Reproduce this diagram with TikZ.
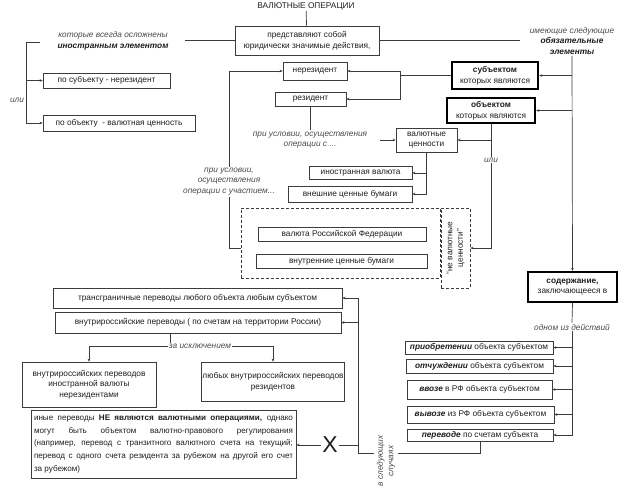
\documentclass[tikz,border=0pt]{standalone}
\usepackage{fontspec}
\setmainfont{Liberation Sans}
\usepackage{graphicx}
\usetikzlibrary{arrows.meta,calc}
\definecolor{ln}{HTML}{3C3C3C}
\definecolor{tx}{HTML}{1E1E1E}
\definecolor{it}{HTML}{4A4A4A}
\newcommand\myfs{\fontsize{8.3}{10.7}\selectfont}
\tikzset{
 box/.style={draw=ln, line width=0.7pt, inner sep=1pt, align=center, font=\myfs, text=tx},
 tbox/.style={draw=black, line width=2.4pt, inner sep=1pt, align=center, font=\myfs, text=tx},
 dbox/.style={draw=ln, dash pattern=on 3pt off 2pt, line width=0.7pt},
 lbl/.style={font=\myfs\itshape, text=it, align=center, inner sep=1pt},
 conn/.style={draw=ln, line width=0.7pt},
 arr/.style={conn, -{Stealth[length=3pt,width=2.6pt]}},
}
\begin{document}
\begin{tikzpicture}[x=1pt,y=-1pt]
\useasboundingbox (0,0) rectangle (637,491);
% top
\node[font=\myfs, text=tx, inner sep=1pt] (title) at (306,6) {ВАЛЮТНЫЕ ОПЕРАЦИИ};
\node[box, minimum width=144, minimum height=29] (topbox) at (307,40.5) {представляют собой\\юридически значимые действия,};
\node[lbl] (inost) at (113,41) {которые всегда осложнены\\\textbf{\textcolor{tx}{иностранным элементом}}};
\node[lbl] (oblig) at (572,41) {имеющие следующие\\\textbf{\textcolor{tx}{обязательные}}\\\textbf{\textcolor{tx}{элементы}}};
\coordinate (c1) at (185,40.5);
\coordinate (c2) at (520,40.5);
\coordinate (lbt) at (40,42);
\coordinate (lbc) at (26,42);
% left
\node[box, minimum width=127, minimum height=15] (posubj) at (106.5,80.5) {по субъекту - нерезидент};
\node[box, minimum width=152, minimum height=16] (poobj) at (119,123) {по объекту \ - валютная ценность};
\node[lbl] (ili1) at (17,100) {или};
% subjects
\node[box, minimum width=64, minimum height=18] (nerez) at (315,71) {нерезидент};
\node[box, minimum width=71, minimum height=14] (rez) at (310.5,99) {резидент};
\node[tbox, minimum width=86, minimum height=27] (subj) at (495,75.5) {\textbf{субъектом}\\которых являются};
\node[tbox, minimum width=88, minimum height=25] (obj) at (491,110.5) {\textbf{объектом}\\которых являются};
\coordinate (j1) at (400,75.5);
% objects
\node[box, minimum width=61, minimum height=24] (valcen) at (426.5,140) {валютные\\ценности};
\node[lbl] (cond1) at (310,140) {при условии, осуществления\\операции с ...};
\coordinate (c3) at (380,140);
\node[box, minimum width=103, minimum height=13] (inval) at (360.5,173) {иностранная валюта};
\node[box, minimum width=124, minimum height=16] (vnesh) at (350,194) {внешние ценные бумаги};
\node[lbl] (cond2) at (229,181.5) {при условии,\\осуществления\\операции с участием...};
\node[dbox, minimum width=199, minimum height=70] (dbig) at (340.5,243) {};
\node[box, minimum width=168, minimum height=14] (valrf) at (342,234) {валюта Российской Федерации};
\node[box, minimum width=171, minimum height=14] (vnutr) at (341.5,261) {внутренние ценные бумаги};
\node[dbox, minimum width=29, minimum height=80, inner sep=0pt, font=\myfs, text=tx] (nvc) at (455.5,248) {\rotatebox{90}{\begin{tabular}{@{}c@{}}“не валютные\\ценности”\end{tabular}}};
\node[lbl, fill=white] (ili2) at (491,160) {или};
% content
\node[tbox, minimum width=89, minimum height=30] (soderzh) at (572.5,287) {\textbf{содержание,}\\заключающееся в};
\node[lbl] (odnom) at (572,327) {одном из действий};
\node[box, minimum width=148, minimum height=13] (acta) at (479,347.5) {\textbf{\textit{приобретении}} объекта субъектом};
\node[box, minimum width=147, minimum height=14] (actb) at (479.5,366) {\textbf{\textit{отчуждении}} объекта субъектом};
\node[box, minimum width=145, minimum height=19] (actc) at (479.5,389.5) {\textbf{\textit{ввозе}} в РФ объекта субъектом};
\node[box, minimum width=147, minimum height=17] (actd) at (480.5,414.5) {\textbf{\textit{вывозе}} из РФ объекта субъектом};
\node[box, minimum width=146, minimum height=12] (acte) at (480,435) {\textbf{\textit{переводе}} по счетам субъекта};
% transfers
\node[box, minimum width=289, minimum height=20] (transgr) at (197.5,298) {трансграничные переводы любого объекта любым субъектом};
\node[box, minimum width=286, minimum height=21] (vnross) at (198,322.5) {внутрироссийские переводы ( по счетам на территории России)};
\node[lbl] (za) at (200,346) {за исключением};
\coordinate (zt) at (170,0);
\node[box, minimum width=134, minimum height=45] (exc1) at (89,384.5) {внутрироссийских переводов\\иностранной валюты\\нерезидентами};
\node[box, minimum width=142, minimum height=39] (exc2) at (273,381.5) {любых внутрироссийских переводов\\резидентов};
\node[box, minimum width=265, minimum height=68, text width=259pt, align=justify, font=\fontsize{8.1}{12.7}\selectfont] (big) at (163.5,444) {иные переводы \textbf{НЕ являются валютными операциями,} однако\linebreak могут быть объектом валютно-правового регулирования\linebreak (например, перевод с транзитного валютного счета на текущий;\linebreak перевод с одного счета резидента за рубежом на другой его счет\linebreak за рубежом)};
\node[font=\fontsize{23}{23}\selectfont, text=tx, inner sep=1pt] (X) at (330,445) {X};
\coordinate (jl) at (358,453);
% connectors
\draw[conn] (title) -- (topbox);
\draw[conn] (topbox.west) -- (c1);
\draw[conn] (topbox.east) -- (c2);
\draw[conn] (lbt) -- (lbc);
\draw[arr] (lbc) |- (poobj);
\draw[arr] (lbc |- posubj) -- (posubj);
\draw[arr] (oblig.south) -- (soderzh.north);
\draw[arr] (oblig.south |- subj) -- (subj);
\draw[arr] (oblig.south |- obj) -- (obj);
\draw[conn] (subj) -- (j1);
\draw[arr] (j1) |- (nerez);
\draw[arr] (j1) |- (rez);
\draw[conn] (rez.south) -- (rez.south |- cond1.north);
\draw[arr] (c3) -- (valcen);
\draw[conn] (obj.south) -- (ili2.north);
\draw[arr] (ili2.south) |- (nvc);
\draw[arr] (obj.south |- valcen) -- (valcen);
\draw[arr] (valcen.south) |- (vnesh);
\draw[arr] (valcen.south |- inval) -- (inval);
\draw[arr] (cond2.north) |- (nerez);
\draw[conn] (cond2.south) |- (dbig.west |- nvc.center);
\draw[conn] (soderzh.south) -- (odnom.north);
\draw[arr] (odnom.south) |- (acte);
\draw[arr] (odnom.south |- acta) -- (acta);
\draw[arr] (odnom.south |- actb) -- (actb);
\draw[arr] (odnom.south |- actc) -- (actc);
\draw[arr] (odnom.south |- actd) -- (actd);
\draw[conn] (acte.south) |- (jl);
\draw[arr] (jl) |- (transgr);
\draw[arr] (jl |- vnross) -- (vnross);
\draw[conn] (X.east) -- (X.east -| jl);
\draw[arr] (X.west) -- (X.west -| big.east);
\draw[conn] (vnross.south -| zt) -- (za.north -| zt);
\draw[arr] (za.west) -| (exc1.north);
\draw[arr] (za.east) -| (exc2.north);
\node[lbl, fill=white] (sled) at (386,461) {\rotatebox{90}{\begin{tabular}{@{}c@{}}в следующих\\случаях\end{tabular}}};
\end{tikzpicture}
\end{document}
